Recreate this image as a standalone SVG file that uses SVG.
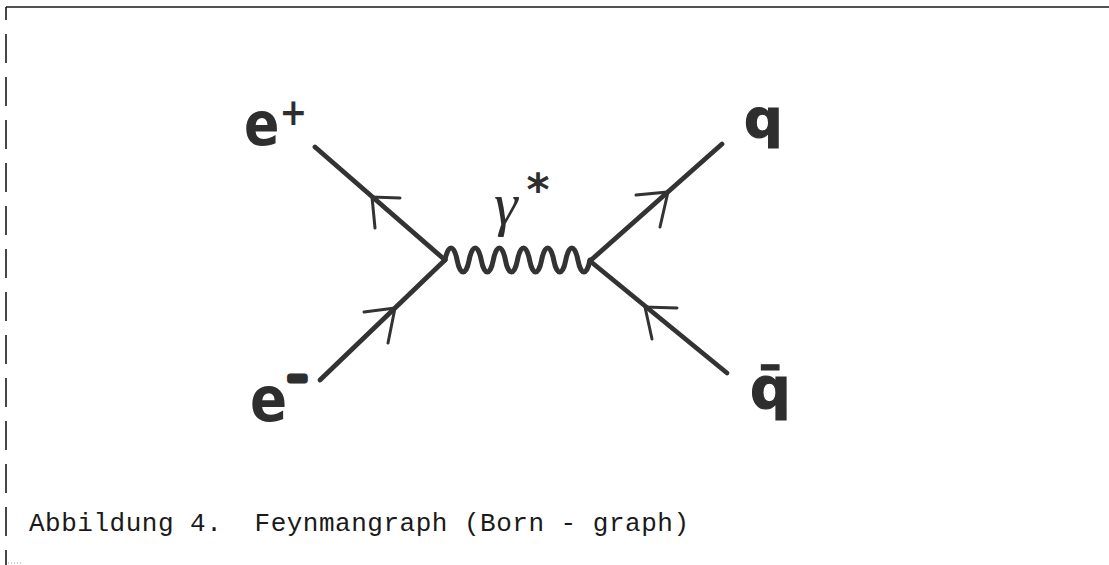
<svg xmlns="http://www.w3.org/2000/svg" width="1109" height="565" viewBox="0 0 1109 565">
<style>
.frame{stroke:#1a1a1a;stroke-width:1.6;fill:none}
.fermion{stroke:#333;stroke-width:4.8;stroke-linecap:round;fill:none}
.barb{stroke:#333;stroke-width:3;stroke-linecap:round;stroke-linejoin:miter;fill:none}
.photon{stroke:#333;stroke-width:5;stroke-linecap:round;stroke-linejoin:round;fill:none}
.lab{font-family:"DejaVu Sans",sans-serif;font-weight:bold;fill:#2e2e2e}
.greek{font-family:"Liberation Serif","DejaVu Serif",serif;font-style:italic;fill:#2e2e2e}
.cap{font-family:"Liberation Mono","DejaVu Sans Mono",monospace;fill:#1a1a1a}
</style>
<rect width="1109" height="565" fill="#fff"/>
<g id="frame">
<line class="frame" x1="6" y1="7" x2="1109" y2="7"/>
<line class="frame" x1="6" y1="7" x2="6" y2="565" stroke-dasharray="29 14" stroke-dashoffset="16"/>
<line x1="8" y1="563" x2="21" y2="563" stroke="#999" stroke-width="1" stroke-dasharray="1 2"/>
</g>
<g id="connectors">
<path id="line-eplus" class="fermion" d="M315,147 L445,260"/>
<path id="line-eminus" class="fermion" d="M320,380 L445,260"/>
<path id="line-q" class="fermion" d="M722,144 L590,261"/>
<path id="line-qbar" class="fermion" d="M590,261 L727,373"/>
<path id="photon" class="photon" d="M445,260 c3.02,-16 9.06,-16 12.08,0 s9.06,16 12.08,0 s9.06,-16 12.08,0 s9.06,16 12.08,0 s9.06,-16 12.08,0 s9.06,16 12.08,0 s9.06,-16 12.08,0 s9.06,16 12.08,0 s9.06,-16 12.08,0 s9.06,16 12.08,0 s9.06,-16 12.08,0 s9.06,16 12.08,0"/>
<path class="barb" d="M400,198 L372,197 L375,228"/>
<path class="barb" d="M364,312 L395,308 L388,343"/>
<path class="barb" d="M636,195 L668,192 L660,227"/>
<path class="barb" d="M677,308 L645,307 L652,339"/>
</g>
<g id="node-eplus">
<text class="lab" transform="translate(244,145) scale(0.87,1)" font-size="60">e<tspan x="40.8" dy="-19.7" font-size="38">+</tspan></text>
</g>
<g id="node-eminus">
<text class="lab" transform="translate(250,421) scale(0.87,1)" font-size="63">e<tspan x="43" dy="-33.8" font-size="27" stroke="#2e2e2e" stroke-width="7" stroke-linejoin="round">−</tspan></text>
</g>
<g id="node-gamma">
<text class="greek" x="494" y="224" font-size="60">γ</text>
<text class="lab" x="538" y="205" font-size="44" text-anchor="middle">*</text>
</g>
<g id="node-q">
<text class="lab" x="744" y="137" font-size="54" stroke="#2e2e2e" stroke-width="1.2">q</text>
</g>
<g id="node-qbar">
<text class="lab" x="750" y="408" font-size="57" stroke="#2e2e2e" stroke-width="1.2">q̄</text>
</g>
<g id="caption">
<text class="cap" x="29" y="531" font-size="26" textLength="660" lengthAdjust="spacing" xml:space="preserve">Abbildung 4.  Feynmangraph (Born - graph)</text>
</g>
</svg>
